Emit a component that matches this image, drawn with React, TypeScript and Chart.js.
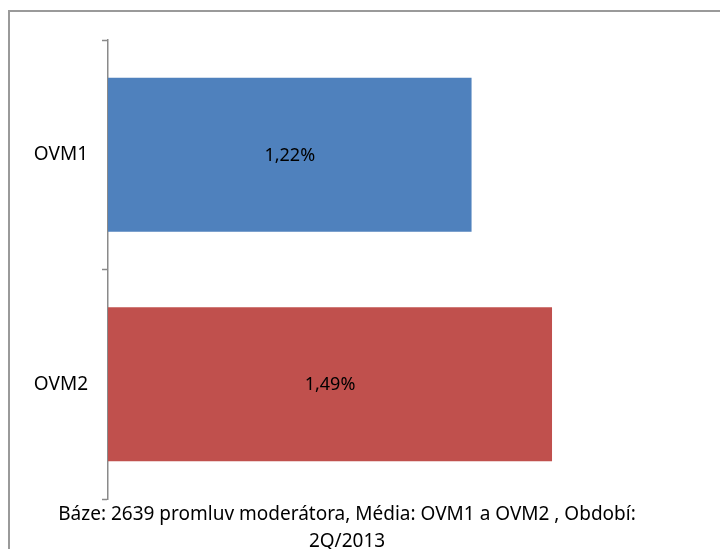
import React, { useEffect, useRef } from "react";
import { Chart, registerables } from "chart.js";

Chart.register(...registerables);

const categories = ["OVM1", "OVM2"];
const values = [1.22, 1.49];
const barColors = ["#4F81BD", "#C0504D"];
const footerLines = [
  "Báze: 2639 promluv moderátora, Média: OVM1 a OVM2 , Období:",
  "2Q/2013",
];
const axisMax = 2;

const FONT = "'Noto Sans', 'DejaVu Sans', sans-serif";

const formatPct = (v: number) => v.toFixed(2).replace(".", ",") + "%";

const dataLabelPlugin = {
  id: "barValueLabels",
  afterDatasetsDraw(chart: any) {
    const ctx = chart.ctx;
    const meta = chart.getDatasetMeta(0);
    ctx.save();
    ctx.font = `18px ${FONT}`;
    ctx.fillStyle = "#000000";
    ctx.textAlign = "center";
    ctx.textBaseline = "middle";
    meta.data.forEach((bar: any, i: number) => {
      const cx = (bar.x + bar.base) / 2;
      ctx.fillText(formatPct(values[i]), cx, bar.y + 1);
    });
    ctx.restore();
  },
};

export default function App() {
  const canvasRef = useRef<HTMLCanvasElement | null>(null);

  useEffect(() => {
    if (!canvasRef.current) return;
    const chart = new Chart(canvasRef.current, {
      type: "bar",
      data: {
        labels: categories,
        datasets: [
          {
            data: values,
            backgroundColor: barColors,
            borderWidth: 0,
            barPercentage: 0.67,
            categoryPercentage: 1,
          },
        ],
      },
      options: {
        indexAxis: "y",
        animation: false,
        responsive: false,
        maintainAspectRatio: false,
        devicePixelRatio: 1,
        layout: { padding: { top: 40, right: 16, bottom: 0, left: 0 } },
        plugins: {
          legend: { display: false },
          tooltip: { enabled: false },
          title: {
            display: true,
            position: "bottom",
            text: footerLines,
            color: "#000000",
            font: { family: FONT, size: 19, weight: "normal", lineHeight: "27px" },
            padding: { top: 2, bottom: 0 },
          },
        },
        scales: {
          x: {
            display: false,
            min: 0,
            max: axisMax,
          },
          y: {
            afterFit(scale: any) {
              scale.width = 118;
            },
            border: { display: true, color: "#8a8a8a", width: 1.5 },
            grid: {
              drawOnChartArea: false,
              drawTicks: true,
              tickLength: 6,
              tickWidth: 1.5,
              tickColor: "#8a8a8a",
            },
            ticks: {
              color: "#000000",
              padding: 14,
              font: { family: FONT, size: 19 },
            },
          },
        },
      },
      plugins: [dataLabelPlugin],
    });
    return () => chart.destroy();
  }, []);

  return (
    <div
      style={{
        position: "fixed",
        left: 0,
        top: 0,
        width: 720,
        height: 549,
        overflow: "hidden",
        background: "#ffffff",
      }}
    >
      <div
        style={{
          position: "absolute",
          left: 8,
          top: 10,
          width: 800,
          height: 800,
          border: "2px solid #9a9a9a",
          boxSizing: "border-box",
        }}
      />
      <canvas
        ref={canvasRef}
        width={730}
        height={555}
        style={{ position: "absolute", left: -10, top: 0, width: 730, height: 555 }}
      />
    </div>
  );
}
